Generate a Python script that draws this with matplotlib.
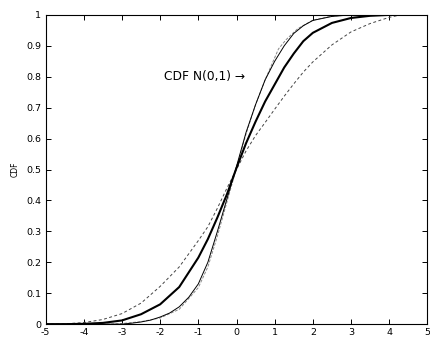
import numpy as np
import matplotlib.pyplot as plt

plt.rcParams['font.family'] = ['DejaVu Sans']

# thick solid curve
x_thick = [-5, -4.5, -4, -3.5, -3, -2.5, -2, -1.5, -1, -0.75, -0.5, -0.25, 0, 0.25, 0.5, 0.75, 1, 1.25, 1.5, 1.75, 2, 2.5, 3, 3.5, 4, 5]
y_thick = [0, 0, 0.001, 0.004, 0.012, 0.032, 0.064, 0.12, 0.215, 0.275, 0.345, 0.42, 0.505, 0.585, 0.655, 0.72, 0.775, 0.83, 0.875, 0.915, 0.942, 0.974, 0.99, 0.997, 1, 1]

# thin solid curve
x_thin = [-5, -3, -2.75, -2.5, -2.25, -2, -1.75, -1.5, -1.25, -1, -0.75, -0.5, -0.25, 0, 0.25, 0.5, 0.75, 1, 1.25, 1.5, 1.75, 2, 2.5, 3, 5]
y_thin = [0, 0, 0.003, 0.007, 0.013, 0.023, 0.036, 0.056, 0.087, 0.13, 0.2, 0.3, 0.405, 0.51, 0.62, 0.71, 0.79, 0.85, 0.9, 0.94, 0.965, 0.982, 0.995, 1, 1]

# gray dashed curve (close to the thin one)
x_gray = [-5, -3.3, -3, -2.5, -2, -1.5, -1, -0.75, -0.5, -0.25, 0, 0.25, 0.5, 0.75, 1.1, 1.3, 1.6, 2, 2.5, 3, 5]
y_gray = [0, 0, 0.002, 0.008, 0.02, 0.048, 0.118, 0.185, 0.285, 0.395, 0.505, 0.615, 0.71, 0.79, 0.89, 0.92, 0.955, 0.983, 0.996, 1, 1]

# wide dashed curve
x_dash = [-5, -4.5, -4, -3.5, -3, -2.5, -2, -1.5, -1, -0.75, -0.5, -0.25, 0, 0.25, 0.5, 0.75, 1, 1.25, 1.5, 1.75, 2, 2.5, 3, 3.5, 4, 4.3, 5]
y_dash = [0, 0.001, 0.005, 0.015, 0.034, 0.068, 0.122, 0.185, 0.27, 0.315, 0.375, 0.44, 0.5, 0.56, 0.61, 0.652, 0.695, 0.737, 0.777, 0.815, 0.848, 0.903, 0.945, 0.972, 0.992, 1, 1]

xticks = np.arange(-5, 6, 1)
yticks = np.round(np.arange(0, 1.01, 0.1), 1)
ytick_labels = ['0'] + ['%.1f' % v for v in yticks[1:-1]] + ['1']

fig = plt.figure(figsize=(4.30, 3.38), dpi=100)
ax = fig.add_axes([0.106, 0.041, 0.888, 0.915])

ax.plot(x_dash, y_dash, color='#444444', lw=0.7, dashes=(3, 2.5))
ax.plot(x_gray, y_gray, color='#888888', lw=0.7, dashes=(3, 1.5))
ax.plot(x_thin, y_thin, color='black', lw=0.7)
ax.plot(x_thick, y_thick, color='black', lw=1.5)

ax.text(-1.90, 0.80, 'CDF N(0,1) \u2192', fontsize=8.8, va='center', ha='left')

ax.set_xlim(-5, 5)
ax.set_ylim(0, 1)
ax.set_xticks(xticks)
ax.set_xticklabels([str(v) for v in xticks])
ax.set_yticks(yticks)
ax.set_yticklabels(ytick_labels)
ax.tick_params(direction='in', length=3.5, width=0.7, labelsize=6.8,
               top=True, right=True, pad=3)
for s in ax.spines.values():
    s.set_linewidth(0.8)
ax.set_ylabel('CDF', fontsize=5.5, labelpad=5)

plt.savefig('out.png', dpi=100)
